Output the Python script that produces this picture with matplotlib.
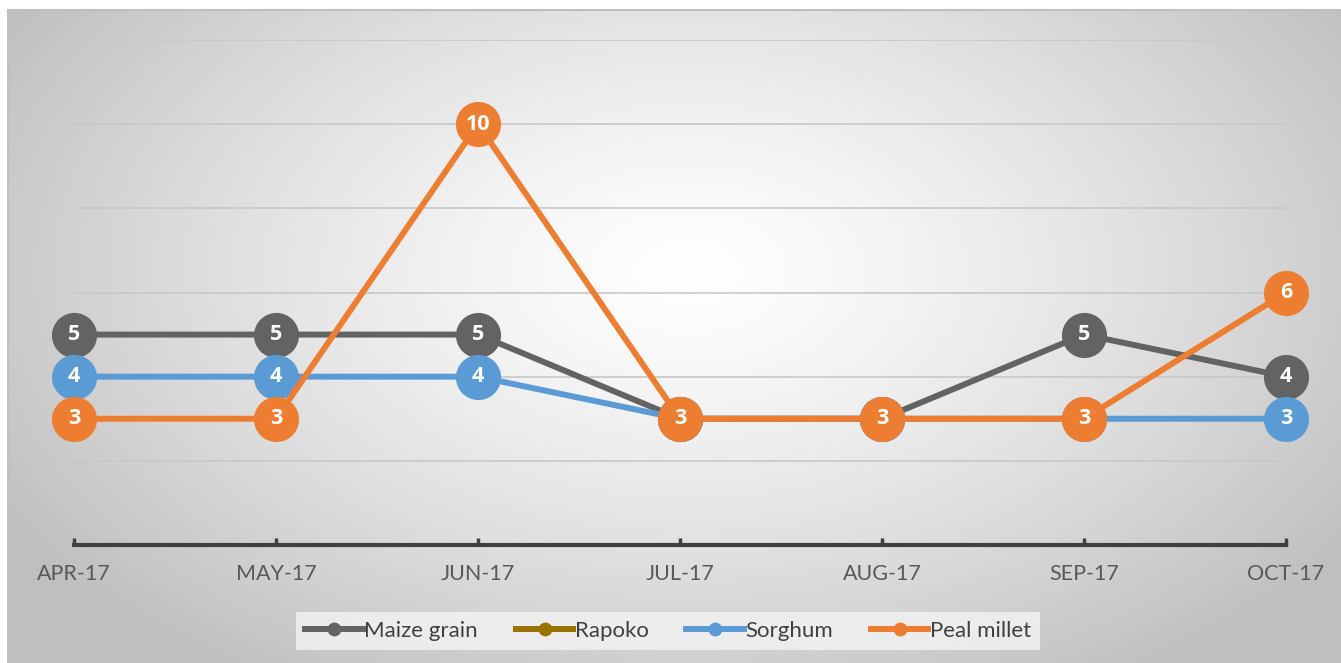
"""Precios mensuales por cereal, abr-oct 2017."""

import numpy as np
import matplotlib
matplotlib.use("Agg")
import matplotlib.pyplot as plt
from matplotlib.lines import Line2D

# Datos
months = ["APR-17", "MAY-17", "JUN-17", "JUL-17", "AUG-17", "SEP-17", "OCT-17"]
maize = [5, 5, 5, 3, 3, 5, 4]
rapoko = [np.nan] * 7          # sin datos visibles
sorghum = [4, 4, 4, 3, 3, 3, 3]
peal_millet = [3, 3, 10, 3, 3, 3, 6]

series_names = ["Maize grain", "Rapoko", "Sorghum", "Peal millet"]
series_values = [maize, rapoko, sorghum, peal_millet]
colors = ["#636363", "#997300", "#5b9bd5", "#ed7d31"]

W, H = 1341, 663
fig = plt.figure(figsize=(W / 100, H / 100), dpi=100)
fig.patch.set_facecolor("white")

# fondo con degradado radial
bg = fig.add_axes([8 / W, 0, 1 - 8 / W, 1 - 10 / H], zorder=0)
yy, xx = np.mgrid[0:400, 0:800]
cx, cy = 0.51, 0.40
r = np.sqrt(((xx / 800 - cx) / 0.60) ** 2 + ((yy / 400 - cy) / 0.75) ** 2)
g = 1.0 - 0.25 * np.clip(r, 0, 1) ** 1.3
bg.imshow(np.dstack([g, g, g]), aspect="auto", extent=[0, 1, 0, 1],
          interpolation="bilinear")
bg.set_xticks([])
bg.set_yticks([])
for sp in bg.spines.values():
    sp.set_color("#bfbfbf")
    sp.set_linewidth(1.5)
bg.spines["bottom"].set_visible(False)
bg.spines["right"].set_visible(False)

ax = fig.add_axes([74 / W, 1 - 545 / H, 1212 / W, 505 / H], zorder=1)
ax.patch.set_alpha(0)
x = np.arange(len(months))

for i, (name, vals, col) in enumerate(zip(series_names, series_values, colors)):
    z = 3 + 2 * i
    ax.plot(x, vals, color=col, linewidth=4.3, marker="o", markersize=32.5,
            markeredgewidth=0, zorder=z, clip_on=False, solid_capstyle="round")
    for xi, v in zip(x, vals):
        if np.isnan(v):
            continue
        ax.text(xi, v, f"{v:g}", ha="center", va="center", color="white",
                fontsize=15.5, fontweight="bold", fontfamily="Open Sans",
                zorder=z + 1)

ax.set_xlim(0, 6)
ax.set_ylim(0, 12)
ax.set_yticks([2, 4, 6, 8, 10, 12])
ax.yaxis.grid(True, color="#c8c8c8", linewidth=1.2)
ax.set_axisbelow(True)
ax.tick_params(axis="y", length=0, labelleft=False)
ax.set_xticks(x)
ax.set_xticklabels(months, fontsize=15.5, color="#595959", fontfamily="Lato")
ax.tick_params(axis="x", direction="in", length=5, width=2.5, color="#404040",
               pad=14)
for s in ["top", "left", "right"]:
    ax.spines[s].set_visible(False)
ax.spines["bottom"].set_color("#404040")
ax.spines["bottom"].set_linewidth(3)

handles = [Line2D([0], [0], color=c, linewidth=4.3, marker="o", markersize=10,
                  markeredgewidth=0) for c in colors]
leg = fig.legend(handles, series_names, loc="center",
                 bbox_to_anchor=(668 / W, 1 - 631 / H), ncol=4,
                 frameon=True, fancybox=False, handlelength=2.6,
                 handletextpad=0.05, columnspacing=1.7,
                 prop={"family": "Lato", "size": 16})
leg.get_frame().set_facecolor("#f4f4f4")
leg.get_frame().set_edgecolor("none")
leg.get_frame().set_alpha(0.8)
for t in leg.get_texts():
    t.set_color("#404040")

fig.savefig("out.png", dpi=100, facecolor="white")
plt.close(fig)
